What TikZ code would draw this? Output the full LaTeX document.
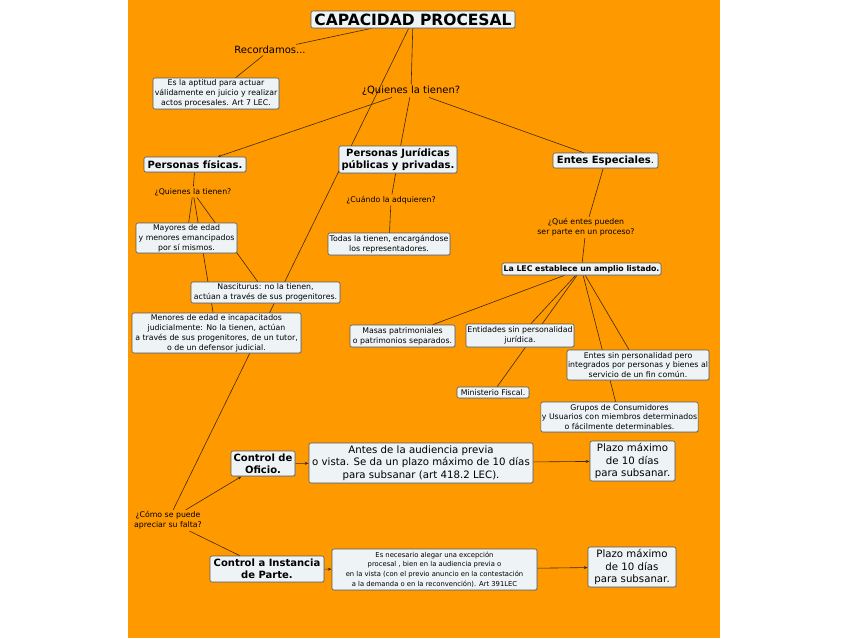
\documentclass[tikz,border=0pt]{standalone}
\usepackage{fontspec}
\setmainfont{DejaVu Sans}
\usetikzlibrary{shadows,arrows.meta}
\definecolor{bgor}{HTML}{FF9900}
\definecolor{boxfill}{HTML}{EEF3F6}
\definecolor{linkc}{HTML}{3B2A10}
\definecolor{boxdraw}{HTML}{5A5A5A}
\pgfdeclarelayer{bglayer}
\pgfdeclarelayer{edgelayer}
\pgfsetlayers{bglayer,edgelayer,main}
\newcommand\szA{\fontsize{7.8}{9.9}\selectfont}
\newcommand\szB{\fontsize{10}{12}\selectfont}
\newcommand\szC{\fontsize{10.2}{12.5}\selectfont}
\newcommand\szD{\fontsize{6.8}{9.6}\selectfont}
\newcommand\szT{\fontsize{15.5}{18}\selectfont}
\begin{document}
\begin{tikzpicture}[x=1pt,y=-1pt,
  cbox/.style={draw=boxdraw, fill=boxfill, rounded corners=2pt, align=center, inner sep=1pt, line width=0.6pt,
     drop shadow={shadow xshift=0.8pt, shadow yshift=-0.8pt, opacity=0.35}},
  lbl/.style={align=center, inner sep=1.5pt},
  link/.style={draw=linkc, line width=0.6pt},
  arr/.style={link, -{Stealth[length=4pt,width=3pt]}}
]
\begin{pgfonlayer}{bglayer}
\fill[white] (0,0) rectangle (848,638);
\fill[bgor] (128,0) rectangle (720,638);
\end{pgfonlayer}
\useasboundingbox (0,0) rectangle (848,638);

% nodes
\node[cbox, minimum width=204pt, minimum height=17pt, font=\szT\bfseries] (title) at (413,19.5) {CAPACIDAD PROCESAL};
\node[lbl, font=\szB] (rec) at (270,50) {Recordamos...};
\node[cbox, minimum width=126pt, minimum height=31pt, font=\szA] (apt) at (216,93.5) {Es la aptitud para actuar\\válidamente en juicio y realizar\\actos procesales. Art 7 LEC.};
\node[lbl, font=\szB] (quien) at (411,91) {¿Quienes la tienen?};
\node[cbox, minimum width=102pt, minimum height=15pt, font=\szB\bfseries] (pf) at (195,164.5) {Personas físicas.};
\node[cbox, minimum width=118pt, minimum height=27pt, font=\szB\bfseries] (pj) at (398,159.5) {Personas Jurídicas\\públicas y privadas.};
\node[cbox, minimum width=105pt, minimum height=15pt, font=\szB] (ee) at (605.5,160.5) {\textbf{Entes Especiales}.};
\node[lbl, font=\szA] (quien2) at (193,192) {¿Quienes la tienen?};
\node[cbox, minimum width=101pt, minimum height=30pt, font=\szA] (may) at (186.5,238) {Mayores de edad\\y menores emancipados\\por sí mismos.};
\node[cbox, minimum width=149pt, minimum height=21pt, font=\szA] (nas) at (265.5,292.5) {Nasciturus: no la tienen,\\actúan a través de sus progenitores.};
\node[cbox, minimum width=169pt, minimum height=40pt, font=\szA] (men) at (216.5,333) {Menores de edad e incapacitados\\judicialmente: No la tienen, actúan\\a través de sus progenitores, de un tutor,\\o de un defensor judicial.};
\node[lbl, font=\szA] (cuando) at (391,200) {¿Cuándo la adquieren?};
\node[cbox, minimum width=122pt, minimum height=22pt, font=\szA] (todas) at (389,244) {Todas la tienen, encargándose\\los representadores.};
\node[lbl, font=\szA] (que) at (586,227.5) {¿Qué entes pueden\\ser parte en un proceso?};
\node[cbox, minimum width=159pt, minimum height=12pt, font=\szA\bfseries] (lec) at (581.5,269) {La LEC establece un amplio listado.};
\node[cbox, minimum width=105pt, minimum height=22pt, font=\szA] (masas) at (402.5,336) {Masas patrimoniales\\o patrimonios separados.};
\node[cbox, minimum width=108pt, minimum height=23pt, font=\szA] (entid) at (520,335.5) {Entidades sin personalidad\\jurídica.};
\node[cbox, minimum width=72pt, minimum height=11pt, font=\szA] (mf) at (493,392.5) {Ministerio Fiscal.};
\node[cbox, minimum width=142pt, minimum height=30pt, font=\szA] (esin) at (638,365) {Entes sin personalidad pero\\integrados por personas y bienes al\\servicio de un fin común.};
\node[cbox, minimum width=157pt, minimum height=30pt, font=\szA] (grup) at (619.5,417) {Grupos de Consumidores\\y Usuarios con miembros determinados\\o fácilmente determinables.};
\node[cbox, minimum width=64pt, minimum height=25pt, font=\szB\bfseries] (ofi) at (263,463.5) {Control de\\Oficio.};
\node[cbox, minimum width=224pt, minimum height=40pt, font=\szC] (antes) at (421,463) {Antes de la audiencia previa\\o vista. Se da un plazo máximo de 10 días\\para subsanar (art 418.2 LEC).};
\node[cbox, minimum width=85pt, minimum height=40pt, font=\szC] (pl1) at (632.5,461) {Plazo máximo\\de 10 días\\para subsanar.};
\node[lbl, font=\szA] (como) at (168,520.5) {¿Cómo se puede\\apreciar su falta?};
\node[cbox, minimum width=114pt, minimum height=26pt, font=\szB\bfseries] (inst) at (267,569) {Control a Instancia\\de Parte.};
\node[cbox, minimum width=205pt, minimum height=41pt, font=\szD] (esn) at (434.5,569.5) {Es necesario alegar una excepción\\procesal , bien en la audiencia previa o\\en la vista (con el previo anuncio en la contestación\\a la demanda o en la reconvención). Art 391LEC};
\node[cbox, minimum width=88pt, minimum height=40pt, font=\szC] (pl2) at (632,567) {Plazo máximo\\de 10 días\\para subsanar.};

% connectors
\begin{pgfonlayer}{edgelayer}
\draw[link] (title) -- (rec);
\draw[link] (rec) -- (apt);
\draw[link] (title) -- (quien);
\draw[link] (title) -- (como);
\draw[link, -{Stealth[length=3pt,width=2.5pt]}] (quien) -- (pf);
\draw[link] (quien) -- (pj);
\draw[link] (quien) -- (ee);
\draw[link] (pf) -- (quien2);
\draw[link] (quien2) -- (may);
\draw[link] (quien2) -- (men);
\draw[link] (quien2) -- (nas);
\draw[link] (pj) -- (cuando);
\draw[link] (cuando) -- (todas);
\draw[link] (ee) -- (que);
\draw[link] (que) -- (lec);
\draw[link] (lec) -- (masas);
\draw[link] (lec) -- (entid);
\draw[link] (lec) -- (mf);
\draw[link] (lec) -- (esin);
\draw[link] (lec) -- (grup);
\draw[arr] (como) -- (ofi);
\draw[link] (como) -- (inst);
\draw[arr] (ofi) -- (antes);
\draw[arr] (antes) -- (pl1);
\draw[arr] (inst) -- (esn);
\draw[arr] (esn) -- (pl2);
\end{pgfonlayer}
\end{tikzpicture}
\end{document}
